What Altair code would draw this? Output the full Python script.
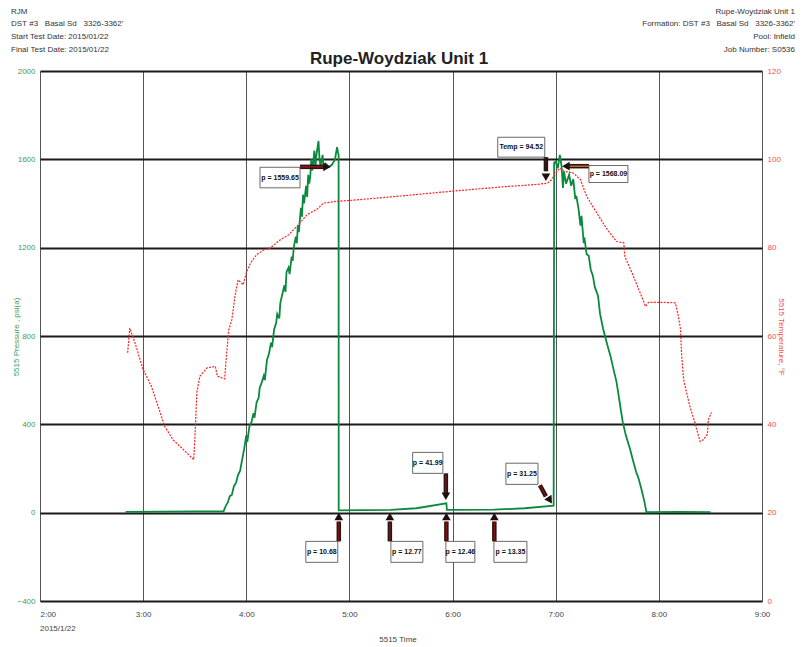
import altair as alt
import pandas as pd

FONT = "Liberation Sans Narrow, Arial Narrow, Liberation Sans, Arial, sans-serif"
NB = "\u00a0"

# ---------------- data ----------------
# 5515 pressure, psi(a) vs time (decimal hours on 2015/1/22)
p_hours = [2.83, 3.2, 3.5, 3.78, 3.80, 3.82, 3.84, 3.86, 3.88, 3.90,
           3.92, 3.94, 3.96, 3.98, 4.00, 4.01, 4.03, 4.05, 4.07, 4.08,
           4.10, 4.12, 4.13, 4.15, 4.17, 4.18, 4.20, 4.22, 4.24, 4.25,
           4.27, 4.29, 4.30, 4.32, 4.33, 4.35, 4.37, 4.38, 4.39, 4.41,
           4.42, 4.44, 4.45, 4.46, 4.48, 4.49, 4.50, 4.51, 4.52, 4.53,
           4.54, 4.55, 4.56, 4.58, 4.59, 4.60, 4.61, 4.62, 4.63, 4.64,
           4.65, 4.66, 4.67, 4.68, 4.70, 4.71, 4.72, 4.74, 4.75, 4.77,
           4.80, 4.83, 4.86, 4.88, 4.89, 4.895, 4.896, 5.40, 5.65, 5.94,
           5.945, 6.40, 6.70, 6.98, 6.985, 7.00, 7.02, 7.04, 7.057, 7.07,
           7.08, 7.10, 7.13, 7.15, 7.17, 7.19, 7.20, 7.22, 7.24, 7.25,
           7.27, 7.28, 7.30, 7.32, 7.34, 7.36, 7.38, 7.41, 7.43, 7.46,
           7.50, 7.53, 7.56, 7.59, 7.62, 7.65, 7.68, 7.72, 7.75, 7.78,
           7.80, 7.83, 7.86, 7.88, 8.2, 8.5]
p_psi = [4, 5, 6, 6, 30, 45, 75, 80, 120, 135,
         170, 190, 240, 290, 350, 320, 390, 410, 450, 430,
         500, 520, 565, 590, 620, 600, 690, 720, 770, 750,
         830, 860, 900, 880, 950, 990, 1030, 1000, 1090, 1110,
         1080, 1160, 1140, 1200, 1250, 1220, 1300, 1270, 1330, 1380,
         1340, 1440, 1400, 1480, 1430, 1530, 1490, 1520, 1600, 1550,
         1590, 1640, 1560, 1620, 1683, 1600, 1570, 1620, 1555, 1580,
         1565, 1575, 1600, 1655, 1630, 1620, 10.68, 12.77, 20, 41.99,
         12.46, 13.35, 20, 31.25, 1585, 1590, 1560, 1620, 1568, 1470,
         1545, 1490, 1530, 1480, 1510, 1420, 1434, 1380, 1300, 1344,
         1230, 1238, 1170, 1163, 1100, 1073, 1020, 982, 900, 832,
         760, 711, 650, 591, 500, 410, 350, 289, 235, 184,
         160, 108, 50, 2, 4, 2]

# 5515 temperature, deg F vs time
t_hours = [2.85, 2.87, 2.92, 3.00, 3.08, 3.21, 3.29, 3.39, 3.49, 3.50,
           3.51, 3.52, 3.55, 3.62, 3.70, 3.72, 3.79, 3.81, 3.83, 3.86,
           3.89, 3.92, 3.97, 4.00, 4.04, 4.10, 4.17, 4.23, 4.33, 4.41,
           4.49, 4.59, 4.68, 4.75, 4.88, 5.01, 5.50, 6.00, 6.50, 6.81,
           6.92, 6.96, 7.00, 7.04, 7.08, 7.17, 7.24, 7.30, 7.40, 7.50,
           7.59, 7.66, 7.67, 7.74, 7.82, 7.87, 7.90, 8.05, 8.16, 8.19,
           8.21, 8.22, 8.24, 8.30, 8.35, 8.40, 8.43, 8.47, 8.48, 8.51]
t_degF = [56.2, 61.8, 58.5, 52.4, 48.6, 39.5, 36.5, 34.3, 32.0, 36.0,
          41.1, 47.1, 50.9, 52.8, 53.1, 50.9, 50.3, 56.2, 61.4, 63.7,
          69.0, 72.7, 71.6, 74.3, 76.5, 78.4, 79.5, 79.9, 81.8, 82.9,
          84.8, 87.5, 88.6, 90.1, 90.5, 90.7, 91.7, 92.8, 93.8, 94.3,
          94.6, 95.4, 96.9, 98.0, 97.3, 96.9, 95.4, 91.6, 87.8, 84.1,
          81.4, 81.1, 78.0, 74.3, 69.7, 66.7, 67.6, 67.6, 67.5, 64.4,
          61.5, 56.0, 50.1, 44.1, 40.3, 36.1, 36.5, 37.7, 41.1, 42.7]

# annotations (box corners, arrow tail/tip, in hours and psi)
ann_text = ["p = 1559.65", "Temp = 94.52", "p = 1568.09", "p = 41.99", "p = 31.25",
            "p = 10.68", "p = 12.77", "p = 12.46", "p = 13.35"]
box_h1 = [4.133, 6.438, 7.322, 5.613, 6.517, 4.577, 5.402, 5.935, 6.401]
box_h2 = [4.521, 6.894, 7.700, 5.906, 6.828, 4.887, 5.712, 6.216, 6.721]
box_p1 = [1471, 1610, 1495, 178, 128, -225, -225, -225, -225]
box_p2 = [1564, 1700, 1572, 273, 224, -130, -130, -130, -130]
arr_h1 = [4.521, 6.905, 7.322, 5.935, 6.847, 4.897, 5.392, 5.940, 6.405]
arr_p1 = [1566, 1610, 1569, 178, 124, -130, -130, -130, -130]
arr_h2 = [4.770, 6.905, 7.120, 5.935, 6.905, 4.897, 5.392, 5.940, 6.405]
arr_p2 = [1566, 1546, 1569, 85, 74, -40, -40, -40, -40]
head_h = [4.783, 6.905, 7.099, 5.935, 6.944, 4.897, 5.392, 5.940, 6.405]
head_p = [1566, 1519, 1569, 74, 56, -17, -17, -17, -17]
head_angle = [90, 180, 270, 180, 147, 0, 0, 0, 0]
arr_inner = ["#b01818", "#301818", "#e8801e", "#8a1414", "#8a1414",
             "#8a1414", "#8a1414", "#8a1414", "#8a1414"]

hour_ticks = [2, 3, 4, 5, 6, 7, 8, 9]
psi_ticks = [-400, 0, 400, 800, 1200, 1600, 2000]
temp_ticks = [0, 20, 40, 60, 80, 100, 120]

header_left = ["RJM", "DST #3   Basal Sd   3326-3362'",
               "Start Test Date: 2015/01/22", "Final Test Date: 2015/01/22"]
header_right = ["Rupe-Woydziak Unit 1", "Formation: DST #3   Basal Sd   3326-3362'",
                "Pool: Infield", "Job Number: S0536"]

# ---------------- tables ----------------
pdf = pd.DataFrame({"h": p_hours, "psi": p_psi})
tdf = pd.DataFrame({"h": t_hours, "T": t_degF})
adf = pd.DataFrame({
    "text": ann_text, "bh1": box_h1, "bh2": box_h2, "bp1": box_p1, "bp2": box_p2,
    "ah1": arr_h1, "ap1": arr_p1, "ah2": arr_h2, "ap2": arr_p2,
    "hh": head_h, "hp": head_p, "ang": head_angle, "inner": arr_inner,
})
adf["th"] = (adf.bh1 + adf.bh2) / 2
adf["tp"] = (adf.bp1 + adf.bp2) / 2

xs = alt.Scale(domain=[2, 9], nice=False, zero=False)
ys = alt.Scale(domain=[-400, 2000], nice=False, zero=False)
ts = alt.Scale(domain=[0, 120], nice=False, zero=False)

x_axis = alt.Axis(values=hour_ticks, grid=True, gridColor="#555555", gridWidth=1,
                  ticks=False, domain=False, labelFontSize=8, labelColor="#444444",
                  labelFont=FONT, labelPadding=9, labelFlush=False,
                  labelExpr="format(datum.value, 'd') + ':00'",
                  labelAlign={"condition": {"test": "datum.value <= 2", "value": "left"},
                              "value": "center"},
                  title=None)
y_axis = alt.Axis(values=psi_ticks, grid=True, gridColor="#1a1a1a", gridWidth=2,
                  ticks=False, domain=False, labelFontSize=8, labelColor="#3c9c5c",
                  labelFont=FONT, labelPadding=5, format="d", title=None)
t_axis = alt.Axis(values=temp_ticks, orient="right", grid=False, ticks=False,
                  domain=False, labelFontSize=8, labelColor="#f05050",
                  labelFont=FONT, labelPadding=5, format="d", title=None)

p_line = alt.Chart(pdf).mark_line(color="#0b8a3e", strokeWidth=1.8).encode(
    x=alt.X("h:Q", scale=xs, axis=x_axis),
    y=alt.Y("psi:Q", scale=ys, axis=y_axis),
    order="h:Q",
)

base = alt.Chart(adf)
shaft_outer = base.mark_rule(color="#2a1414", strokeWidth=4.5).encode(
    x=alt.X("ah1:Q", scale=xs), y=alt.Y("ap1:Q", scale=ys), x2="ah2:Q", y2="ap2:Q")
shaft_inner = base.mark_rule(strokeWidth=1.2).encode(
    x=alt.X("ah1:Q", scale=xs), y=alt.Y("ap1:Q", scale=ys), x2="ah2:Q", y2="ap2:Q",
    color=alt.Color("inner:N", scale=None))
heads = base.mark_point(shape="triangle-up", filled=True, size=75, opacity=1,
                        color="#1e1010").encode(
    x=alt.X("hh:Q", scale=xs), y=alt.Y("hp:Q", scale=ys),
    angle=alt.Angle("ang:Q", scale=None))
boxes = base.mark_rect(fill="white", stroke="#444444", strokeWidth=0.8).encode(
    x=alt.X("bh1:Q", scale=xs), x2="bh2:Q", y=alt.Y("bp1:Q", scale=ys), y2="bp2:Q")
box_text = base.mark_text(font=FONT, fontSize=7, fontWeight="bold", color="#111111").encode(
    x=alt.X("th:Q", scale=xs), y=alt.Y("tp:Q", scale=ys), text="text:N")

pressure = alt.layer(p_line, shaft_outer, shaft_inner, heads, boxes, box_text)

t_line = alt.Chart(tdf).mark_line(color="#ff2020", strokeWidth=1.2,
                                  strokeDash=[2, 1.3]).encode(
    x=alt.X("h:Q", scale=xs),
    y=alt.Y("T:Q", scale=ts, axis=t_axis),
    order="h:Q",
)

one = alt.Data(values=[{"k": 1}])


def label(text, x, y, size=8, color="#333333", align="left", weight="normal", angle=0):
    return alt.Chart(one).mark_text(text=text.replace(" ", NB), font=FONT, fontSize=size,
                                    color=color, align=align, baseline="middle",
                                    fontWeight=weight, angle=angle).encode(
        x=alt.value(x), y=alt.value(y))


texts = []
for s, yy in zip(header_left, [-59.5, -47, -34, -21.5]):
    texts.append(label(s, -29, yy))
for s, yy in zip(header_right, [-59.5, -47, -34, -21.5]):
    texts.append(label(s, 755, yy, align="right"))
texts.append(label("Rupe-Woydziak Unit 1", 359, -12, size=17, color="#222222",
                   align="center", weight="bold"))
texts.append(label("5515 Pressure , psi(a)", -23, 266, color="#3c9c5c",
                   align="center", angle=270))
texts.append(label("5515 Temperature, \u00b0F", 741, 266, color="#f05050",
                   align="center", angle=90))
texts.append(label("2015/1/22", 0, 558, color="#444444"))
texts.append(label("5515 Time", 358, 569, color="#444444", align="center"))

chart = alt.layer(pressure, t_line, *texts).resolve_scale(y="independent").properties(
    width=722, height=530,
    autosize=alt.AutoSizeParams(type="none"),
    padding={"left": 32, "top": 63, "right": 33, "bottom": 50},
).configure_view(stroke="#111111", strokeWidth=2).configure(background="white")

chart.save("out.html", embed_options={"renderer": "svg", "actions": False})
